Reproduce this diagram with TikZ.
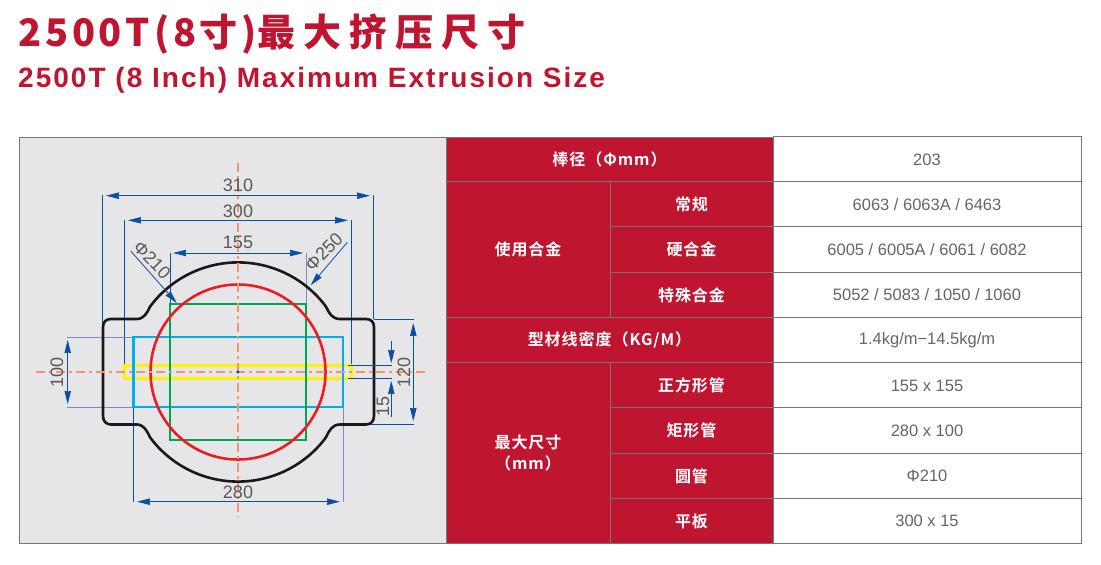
\documentclass[tikz,border=0pt]{standalone}
\usepackage{fontspec}
\setmainfont{Liberation Sans}
\newfontfamily\titlecjk[LetterSpace=21.5]{Noto Sans CJK SC Black}
\newfontfamily\titlenum[LetterSpace=10]{Noto Sans CJK SC Black}
\newfontfamily\cellcjk[LetterSpace=6]{Noto Sans CJK SC Bold}
\newfontfamily\titlelatin[LetterSpace=7.2]{Liberation Sans Bold}
\usetikzlibrary{arrows.meta}
\definecolor{brandred}{HTML}{C01530}
\definecolor{panelgrey}{HTML}{E6E6E8}
\definecolor{rulegrey}{HTML}{777777}
\definecolor{dimblue}{HTML}{0B4EA2}
\definecolor{dimlight}{HTML}{7F8AC4}
\definecolor{axisorange}{HTML}{F2956B}
\definecolor{dimtext}{HTML}{595959}
\definecolor{valuetext}{HTML}{666666}
\definecolor{secred}{HTML}{ED1C24}
\definecolor{secgreen}{HTML}{00A651}
\definecolor{secyellow}{HTML}{FFF200}
\definecolor{seccyan}{HTML}{00AEEF}
\tikzset{
  headcell/.style={
    rectangle, draw=rulegrey, line width=1pt, fill=brandred, text=white,
    inner sep=0pt, align=center, font=\cellcjk\fontsize{16}{20.5}\selectfont
  },
  valuecell/.style={
    rectangle, draw=rulegrey, line width=1pt, fill=white, text=valuetext,
    inner sep=0pt, minimum width=308pt, font=\fontsize{16.5}{18}\selectfont
  },
  dimline/.style={draw=dimblue, line width=0.8pt},
  dimsoft/.style={draw=dimlight, line width=0.9pt},
  dimarrow/.style={{Stealth[length=13pt,width=6.5pt,inset=0.5pt]}-{Stealth[length=13pt,width=6.5pt,inset=0.5pt]}, dimblue, line width=0.8pt},
  dimtip/.style={-{Stealth[length=13pt,width=6.5pt,inset=0.5pt]}, dimblue, line width=0.8pt},
  dimlabel/.style={text=dimtext, inner sep=0pt, font=\fontsize{18}{18}\selectfont},
  axis/.style={axisorange, line width=1.3pt, dash pattern=on 9pt off 4pt on 3pt off 4pt},
  section/.style={line width=2.6pt},
  profile/.style={line width=2.6pt, line join=round}
}

\begin{document}
\begin{tikzpicture}[x=1pt, y=-1pt]
  \useasboundingbox (0,0) rectangle (1101,565);

  % Titles
  \node[anchor=base west, inner sep=0pt, text=brandred, font=\fontsize{38}{38}\selectfont] (titlecn) at (18,46) {\titlenum 2500T(8寸)\titlecjk 最大挤压尺寸};
  \node[anchor=base west, inner sep=0pt, text=brandred, font=\titlelatin\fontsize{28}{28}\selectfont] (titleen) at (18,87) {2500T (8 Inch) Maximum Extrusion Size};

  % Drawing panel
  \draw[rulegrey, line width=1pt, fill=panelgrey] (19,137) rectangle (446,543);

  % Extension lines
  \draw[dimline] (102.7,195) -- (102.7,337);
  \draw[dimline] (373.3,195) -- (373.3,319);
  \draw[dimline] (124.5,220) -- (124.5,372);
  \draw[dimline] (351.5,220) -- (351.5,365);
  \draw[dimline] (170,253) -- (170,304);
  \draw[dimsoft] (306,253) -- (306,304);
  \draw[dimline] (133.5,407) -- (133.5,502);
  \draw[dimsoft] (343,407) -- (343,502);
  \draw[dimsoft] (67,337) -- (133.5,337);
  \draw[dimsoft] (67,407) -- (133.5,407);
  \draw[dimline] (374,319) -- (414,319);
  \draw[dimline] (343,424.5) -- (414,424.5);

  % Section outlines
  \draw[section, secyellow] (124.5,365.5) rectangle (351.5,378.5);
  \draw[section, seccyan] (133.5,337) rectangle (343,407);
  \draw[section, secgreen] (170,304) rectangle (306,440);
  \draw[section, secred] (238,372) circle[radius=87.5];

  % Container bore
  \draw[profile, color=black!90]
    plot[domain=143.4:36.6, samples=60] ({238+109.6*cos(\x)},{372-109.6*sin(\x)})
    .. controls (329,313) and (332,319) .. (340,319) -- (366,319)
    .. controls (371,319) and (374,322) .. (374,327) -- (374,416)
    .. controls (374,421) and (371,424.5) .. (366,424.5) -- (340,424.5)
    .. controls (332,424.5) and (329,431) .. (326,437.3)
    -- plot[domain=-36.6:-143.4, samples=60] ({238+109.6*cos(\x)},{372-109.6*sin(\x)})
    .. controls (147,431) and (144,424.5) .. (136.7,424.5) -- (111,424.5)
    .. controls (106,424.5) and (103,421) .. (103,416) -- (103,327)
    .. controls (103,322) and (106,319) .. (111,319) -- (136.7,319)
    .. controls (144,319) and (147,313) .. (150,306.7);

  % Centre lines
  \draw[axis] (36,372) -- (428,372);
  \draw[axis] (238,163) -- (238,517);
  \fill[dimblue] (238,372) circle[radius=1.7];

  % Plate thickness lines
  \draw[dimline] (348,365) -- (392,365);
  \draw[dimline] (348,378.5) -- (392,378.5);

  % Dimension arrows
  \draw[dimarrow] (106,195.7) -- (370,195.7);
  \draw[dimarrow] (128,220.3) -- (348,220.3);
  \draw[dimarrow] (173,253) -- (303,253);
  \draw[dimarrow] (137,501.7) -- (340,501.7);
  \draw[dimarrow] (67.7,340) -- (67.7,404);
  \draw[dimarrow] (413.3,323) -- (413.3,421);
  \draw[dimtip] (391.3,341) -- (391.3,363);
  \draw[dimtip] (391.3,417) -- (391.3,381);
  \draw[dimtip] (130.7,251) -- (176.7,303);
  \draw[dimtip] (347.3,242.3) -- (310.7,285.3);

  % Dimension labels
  \node[dimlabel] (dimouter) at (238,185) {310};
  \node[dimlabel] (diminner) at (238,211) {300};
  \node[dimlabel] (dimsquare) at (238,242) {155};
  \node[dimlabel] (dimwidth) at (238,492) {280};
  \node[dimlabel, rotate=90] (dimheight) at (57,372) {100};
  \node[dimlabel, rotate=90] (dimear) at (404,372) {120};
  \node[dimlabel, rotate=90] (dimplate) at (383,406) {15};
  \node[dimlabel, rotate=-46] (dimtube) at (152,260) {Φ210};
  \node[dimlabel, rotate=45] (dimbore) at (324,252) {Φ250};

  % Table, left column
  \node[headcell, minimum width=327pt, minimum height=45pt] (rod) at (609.5,159.5) {棒径（Φmm）};
  \node[headcell, minimum width=164pt, minimum height=135.5pt] (alloy) at (528,249.5) {使用合金};
  \node[headcell, minimum width=327pt, minimum height=45pt] (density) at (609.5,340) {型材线密度（KG/M）};
  \node[headcell, minimum width=164pt, minimum height=181pt] (maxsize) at (528,453) {最大尺寸\\（mm）};

  % Table, second column
  \foreach \y/\name/\label in {
    204.5/regular/常规, 249.5/hard/硬合金, 295/special/特殊合金,
    385.5/square/正方形管, 430.5/rect/矩形管, 476/round/圆管, 521/plate/平板}
    \node[headcell, minimum width=163pt, minimum height=45.2pt] (\name) at (691.5,\y) {\label};

  % Table, values
  \foreach \y/\name/\label in {
    159.5/vrod/203, 204.5/vregular/{6063 / 6063A / 6463}, 249.5/vhard/{6005 / 6005A / 6061 / 6082},
    295/vspecial/{5052 / 5083 / 1050 / 1060}, 340/vdensity/{1.4kg/m−14.5kg/m},
    385.5/vsquare/155 x 155, 430.5/vrect/280 x 100, 476/vround/Φ210, 521/vplate/300 x 15}
    \node[valuecell, minimum height=45.2pt] (\name) at (927,\y) {\label};
\end{tikzpicture}
\end{document}
